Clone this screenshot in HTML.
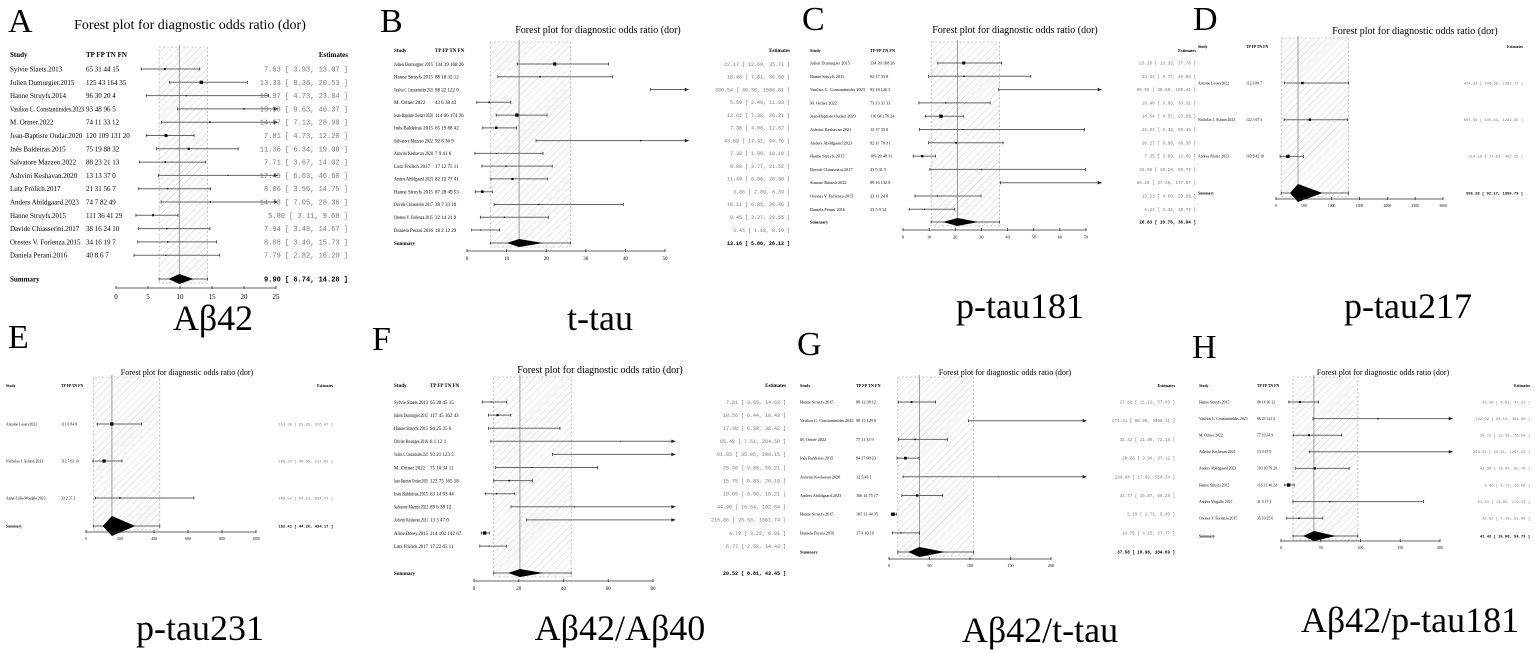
<!DOCTYPE html>
<html><head><meta charset="utf-8"><style>
body{margin:0;background:#fff;}
svg{display:block;}
</style></head><body>
<svg id="fig" width="1535" height="653" viewBox="0 0 1535 653" xmlns="http://www.w3.org/2000/svg">
<defs>
<pattern id="hatch" patternUnits="userSpaceOnUse" width="5" height="5" patternTransform="rotate(45)">
<rect width="5" height="5" fill="#fff"/><line x1="0" y1="0" x2="0" y2="5" stroke="#bbb" stroke-width="0.7"/>
</pattern>
</defs>
</svg>
<script>
// ---------- data ----------
const studiesA=["Sylvie Slaets.2013","Julien Dumurgier.2015"," Hanne Struyfs.2014","Vasilios C. Constantinides.2023","M. Ortner.2022","Jean-Baptiste Oudar.2020","Inês Baldeiras.2015","Salvatore Mazzeo.2022","Ashvini Keshavan.2020","Lutz Frölich.2017","Anders Abildgaard.2023","Hanne Struyfs.2015","Davide Chiasserini.2017","Orestes V. Forlenza.2015","Daniela Perani.2016"];
const countsA=["65 31 44 15","125 43 164 35","96 30 20 4","93 48 96 5","74 11 33 12","120 109 131 20","75 19 88 32","88 23 21 13","13 13 37 0","21 31 56 7","74 7 82 49","111 36 41 29","38 16 24 10","34 16 19 7","40 8 6 7"];
const estA=[7.63,13.33,10.97,19.98,14.67,7.81,11.36,7.71,17.49,8.06,14.73,5.80,7.94,8.08,7.79];
const loA=[3.93,8.36,4.73,9.63,7.13,4.73,6.34,3.67,6.63,3.56,7.05,3.11,3.48,3.40,2.82];
const hiA=[13.07,20.53,23.84,40.37,28.90,12.20,19.08,14.02,46.60,14.75,28.36,9.68,14.67,15.73,16.20];
const sumA=[9.90,6.74,14.28,8.2,12.1];

const studiesB=["Julien Dumurgier 2015","Hanne Struyfs 2015","Vasilios C. Constantinides 2023","M. Ortner 2022","Jean-Baptiste Oudart 2020","Inês Baldeiras 2015","Salvatore Mazzeo 2022","Ashvini Keshavan 2020","Lutz Frölich 2017","Anders Abildgaard 2023","Hanne Struyfs 2015","Davide Chiasserini 2017","Orestes V. Forlenza 2015","Daniela Perani 2016"];
const countsB=["134 39 168 26","88 18 32 12","98 22 122 0","43 6 38 43","114 66 174 26","65 19 88 42","92 8 36 9","7 9 41 6","17 12 75 11","82 12 77 41","87 28 49 53","38 7 33 10","32 14 21 9","18 2 12 29"];
const estB=[22.17,18.46,380.54,5.59,12.61,7.38,43.89,7.38,9.89,11.49,3.86,18.11,9.45,3.45];
const loB=[12.69,7.81,46.36,2.49,7.38,4.00,17.42,1.99,3.77,6.06,2.09,6.85,3.37,1.18];
const hiB=[35.71,36.80,1506.81,11.03,20.21,12.52,94.76,19.19,21.52,20.30,6.39,39.46,20.55,8.19];
const sumB=[13.16,5.86,26.12,10.1,19.2];

const studiesC=["Julien Dumurgier 2015","Hanne Struyfs 2015","Vasilios C. Constantinides 2023","M. Ortner 2022","Jean-Baptiste Oudart 2020","Ashvini Keshavan 2021","Anders Abildgaard 2023","Hanne Struyfs 2015","Davide Chiasserini 2017","Simone Baiardi 2022","Orestes V. Forlenza 2015","Daniela Perani 2016"];
const countsC=["134 39 168 26","92 17 33 8","93 18 126 5","73 13 31 13","116 64 176 24","13 17 33 0","92 11 78 31","109 29 48 31","43 9 31 5","89 16 132 8","33 11 24 8","33 5 9 14"];
const estC=[23.26,23.34,89.55,16.40,14.54,22.93,20.27,7.35,29.96,86.28,13.23,8.23];
const loC=[13.32,9.77,36.59,6.08,8.57,6.32,9.80,3.89,10.29,37.26,4.60,2.38];
const hiC=[37.70,48.86,199.41,33.31,23.08,69.45,38.30,12.48,69.77,177.87,29.88,19.77];
const sumC=[20.83,10.76,36.94,15.3,28.7];

const studiesD=["Antoine Lesary2022","Nicholas J. Ashton 2023","Andrea Pilotto 2023"];
const countsD=["112 3 89 7","122 3 67 3","103 8 42 10"];
const estD=[474.32,607.59,214.59];
const loD=[146.68,145.63,73.83];
const hiD=[1302.17,1282.35,492.29];
const sumD=[395.28,92.17,1305.79,252,834];

const studiesE=["Antoine Lesary2022","Nicholas J. Ashton 2023","Anna-Lidia Wojdała 2023"];
const countsE=["111 6 84 8","112 7 63 13","33 2 37 2"];
const estE=[151.30,106.24,199.54];
const loE=[65.25,40.95,54.13];
const hiE=[326.47,211.61,634.47];
const sumE=[152.41,44.26,434.17,98,289];

const studiesF=["Sylvie Slaets.2013","Julien Dumurgier.2015","Hanne Struyfs.2015","Olivier Bousiges.2016","Vasilios C. Constantinides.2023","M. Ortner 2022","Jean-Baptiste Oudart.2020","Inês Baldeiras.2015","Salvatore Mazzeo.2022","Ashvini Keshavan.2021","Aline Dorey.2015","Lutz Frölich.2017"];
const countsF=["65 30 45 15","117 45 162 43","94 25 25 6","8 1 12 1","93 21 123 5","75 10 34 11","122 75 165 18","63 14 93 44","89 6 38 12","13 3 47 0","214 102 142 67","17 22 65 11"];
const estF=[7.81,10.56,17.38,65.48,91.85,25.90,15.75,10.05,44.90,215.86,4.79,6.77];
const loF=[3.65,6.44,6.50,7.51,35.05,9.68,8.83,5.00,16.54,23.53,3.22,2.58];
const hiF=[14.63,16.43,38.42,284.50,209.15,55.21,26.10,18.21,102.04,1061.74,6.81,14.43];
const sumF=[20.52,8.81,43.45,15.2,31];

const studiesG=["Hanne Struyfs.2015","Vasilios C. Constantinides.2023","M. Ortner 2022","Inês Baldeiras.2015","Ashvini Keshavan.2020","Anders Abildgaard.2023","Hanne Struyfs.2015","Daniela Perani.2016"];
const countsG=["88 12 38 12","98 15 129 0","77 11 33 9","84 17 90 23","12 5 45 1","106 14 75 17","105 33 44 35","37 4 10 10"];
const estG=[27.82,671.31,32.42,20.28,134.94,34.77,5.19,14.75];
const loG=[11.22,98.05,11.89,9.94,17.42,15.87,2.71,4.15];
const hiG=[57.45,3098.31,72.18,37.12,554.34,66.25,9.05,37.77];
const sumG=[37.58,10.98,104.69,23.5,69];

const studiesH=["Hanne Struyfs.2015","Vasilios C. Constantinides.2023","M. Ortner 2022","Ashvini Keshavan.2021","Anders Abildgaard.2023","Hanne Struyfs.2015","Andrea Vergallo 2017","Orestes V. Forlenza.2015"];
const countsH=["88 14 36 12","96 23 121 2","77 10 34 9","13 3 47 0","103 10 79 20","116 31 46 24","41 3 17 4","35 10 25 6"];
const estH=[23.69,122.02,35.12,263.51,42.39,9.66,61.34,22.62];
const loH=[9.82,40.14,15.34,35.61,18.47,4.73,14.95,7.18];
const hiH=[47.21,364.90,76.50,1297.23,85.70,16.69,179.43,52.66];
const sumH=[41.42,15.08,96.73,27.7,69];

const ticksA=[0,5,10,15,20,25], ticksB=[0,10,20,30,40,50], ticksC=[0,10,20,30,40,50,60,70],
ticksD=[0,500,1000,1500,2000,2500,3000], ticksE=[0,200,400,600,800,1000], ticksF=[0,20,40,60,80],
ticksG=[0,50,100,150,200], ticksH=[0,50,100,150,200];

// ---------- layout ----------
const panels=[
 {id:"a",L:"A",lx:8,ly:32,ls:34,tx:190,ty:29,ts:14,hy:57,sx:10,cx:86,y0:69,dy:13.3,sumY:279,axY:288,a0:116,a1:276,xmax:25,clip:25.3,er:348,fs:7,label:"Aβ42",labX:213,labY:330,S:studiesA,C:countsA,E:estA,Lo:loA,Hi:hiA,Sm:sumA,T:ticksA,dh:5},
 {id:"b",L:"B",lx:380,ly:32,ls:34,tx:598,ty:33,ts:10,hy:52,sx:394,cx:435,y0:64,dy:12.77,sumY:243,axY:251,a0:467,a1:665,xmax:50,clip:56,er:790,fs:5,label:"t-tau",labX:600,labY:330,S:studiesB,C:countsB,E:estB,Lo:loB,Hi:hiB,Sm:sumB,T:ticksB,dh:4},
 {id:"c",L:"C",lx:802,ly:30,ls:34,tx:1015,ty:33,ts:10,hy:52,sx:810,cx:870,y0:63,dy:13.3,sumY:222,axY:230,a0:903,a1:1086,xmax:70,clip:76,er:1196,fs:4.3,label:"p-tau181",labX:1020,labY:318,S:studiesC,C:countsC,E:estC,Lo:loC,Hi:hiC,Sm:sumC,T:ticksC,dh:4},
 {id:"d",L:"D",lx:1193,ly:30,ls:34,tx:1415,ty:34,ts:10,hy:48,sx:1198,cx:1246,y0:83,dy:36.7,sumY:193,axY:199,a0:1276,a1:1443,xmax:3000,clip:3000,er:1523,fs:3.8,label:"p-tau217",labX:1408,labY:318,S:studiesD,C:countsD,E:estD,Lo:loD,Hi:hiD,Sm:sumD,T:ticksD,dh:9},
 {id:"e",L:"E",lx:8,ly:348,ls:34,tx:187,ty:375,ts:8,hy:387,sx:6,cx:61,y0:424,dy:37,sumY:526,axY:532,a0:86,a1:256,xmax:1000,clip:1000,er:333,fs:3.8,label:"p-tau231",labX:200,labY:640,S:studiesE,C:countsE,E:estE,Lo:loE,Hi:hiE,Sm:sumE,T:ticksE,dh:10},
 {id:"f",L:"F",lx:372,ly:350,ls:34,tx:600,ty:373,ts:10,hy:387,sx:394,cx:430,y0:402,dy:13.1,sumY:573,axY:581,a0:474,a1:653,xmax:80,clip:90,er:786,fs:5,label:"Aβ42/Aβ40",labX:620,labY:640,S:studiesF,C:countsF,E:estF,Lo:loF,Hi:hiF,Sm:sumF,T:ticksF,dh:4},
 {id:"g",L:"G",lx:797,ly:355,ls:34,tx:1005,ty:375,ts:8,hy:387,sx:800,cx:856,y0:402,dy:18.7,sumY:552,axY:559,a0:889,a1:1051,xmax:200,clip:244,er:1175,fs:4.2,label:"Aβ42/t-tau",labX:1040,labY:642,S:studiesG,C:countsG,E:estG,Lo:loG,Hi:hiG,Sm:sumG,T:ticksG,dh:5},
 {id:"h",L:"H",lx:1192,ly:358,ls:34,tx:1383,ty:375,ts:8,hy:387,sx:1199,cx:1257,y0:402,dy:16.6,sumY:536,axY:541,a0:1281,a1:1440,xmax:200,clip:216,er:1530,fs:3.8,label:"Aβ42/p-tau181",labX:1410,labY:632,S:studiesH,C:countsH,E:estH,Lo:loH,Hi:hiH,Sm:sumH,T:ticksH,dh:5}
];

const NS="http://www.w3.org/2000/svg";
const svg=document.getElementById("fig");
function mk(tag,attrs,parent,txt){const e=document.createElementNS(NS,tag);for(const k in attrs)e.setAttribute(k,attrs[k]);if(txt!==undefined)e.textContent=txt;parent.appendChild(e);return e;}
const serif='"Liberation Serif", serif', mono='"Liberation Mono", monospace';
function f2(v){return v.toFixed(2);}

panels.forEach(p=>{
 const g=mk("g",{},svg);
 
 
 const X=v=>p.a0+(Math.min(Math.max(v,0),p.clip))/p.xmax*(p.a1-p.a0);
 let t=mk("text",{x:p.lx,y:p.ly,"font-family":serif,"font-size":p.ls},g,p.L);
 
 
 t=mk("text",{x:p.tx,y:p.ty,"font-family":serif,"font-size":p.ts,"text-anchor":"middle"},g,"Forest plot for diagnostic odds ratio (dor)");
 
 
 const r=mk("rect",{x:X(p.Sm[1]),y:p.hy-10,width:X(p.Sm[2])-X(p.Sm[1]),height:p.sumY-p.hy+14,fill:"url(#hatch)",stroke:"#999","stroke-width":0.6,"stroke-dasharray":"2,2"},g);
 
 
 const vl=mk("line",{x1:X(p.Sm[0]),x2:X(p.Sm[0]),y1:p.hy-12,y2:p.sumY+4,stroke:"#999","stroke-width":1},g);
 
 
 const hf=p.fs;
 t=mk("text",{x:p.sx,y:p.hy,"font-family":serif,"font-size":hf,"font-weight":"bold"},g,"Study");
 
 
 t=mk("text",{x:p.cx,y:p.hy,"font-family":serif,"font-size":hf,"font-weight":"bold"},g,"TP FP TN FN");
 
 
 t=mk("text",{x:p.er,y:p.hy,"font-family":serif,"font-size":hf,"font-weight":"bold","text-anchor":"end"},g,"Estimates");
 
 
 const widths=p.Lo.map((l,i)=>Math.log(p.Hi[i])-Math.log(l));
 const minW=Math.min(...widths);
 const avail=p.cx-p.sx-2;
 p.S.forEach((s,i)=>{
  const y=p.y0+i*p.dy;
  let e=mk("text",{x:p.sx,y:y+hf*0.35,"font-family":serif,"font-size":hf},g,s);
  
  
  try{ if(e.getComputedTextLength()>avail){e.setAttribute("textLength",avail);e.setAttribute("lengthAdjust","spacingAndGlyphs");} }catch(err){}
  e=mk("text",{x:p.cx,y:y+hf*0.35,"font-family":serif,"font-size":hf,"xml:space":"preserve"},g,p.C[i]);
  
  
  const x1=X(p.Lo[i]),x2=X(p.Hi[i]);
  e=mk("line",{x1:x1,x2:x2,y1:y,y2:y,stroke:"#666","stroke-width":1},g);
  
  
  mk("line",{x1:x1,x2:x1,y1:y-1.5,y2:y+1.5,stroke:"#333","stroke-width":0.8},g);
  if(p.Hi[i]>p.clip){
   const a=mk("polygon",{points:`${x2},${y} ${x2-4},${y-1.8} ${x2-4},${y+1.8}`,fill:"#222"},g);
   
   
  } else mk("line",{x1:x2,x2:x2,y1:y-1.5,y2:y+1.5,stroke:"#333","stroke-width":0.8},g);
  if(p.E[i]<=p.clip){
   const sz=0.8+2.5*Math.pow(minW/widths[i],3);
   e=mk("rect",{x:X(p.E[i])-sz/2,y:y-sz/2,width:sz,height:sz,fill:"#000"},g);
   
   
  }
  e=mk("text",{x:p.er,y:y+hf*0.35,"font-family":mono,"font-size":hf,"text-anchor":"end",fill:"#777","xml:space":"preserve"},g,`${f2(p.E[i])} [ ${f2(p.Lo[i]).padStart(5)}, ${f2(p.Hi[i]).padStart(6)} ]`);
  
  
 });
 const sy=p.sumY;
 t=mk("text",{x:p.sx,y:sy+hf*0.35,"font-family":serif,"font-size":hf,"font-weight":"bold"},g,"Summary");
 
 
 mk("line",{x1:X(p.Sm[1]),x2:X(p.Sm[2]),y1:sy,y2:sy,stroke:"#666","stroke-width":1},g);
 mk("line",{x1:X(p.Sm[1]),x2:X(p.Sm[1]),y1:sy-1.5,y2:sy+1.5,stroke:"#333","stroke-width":0.8},g);
 mk("line",{x1:X(p.Sm[2]),x2:X(p.Sm[2]),y1:sy-1.5,y2:sy+1.5,stroke:"#333","stroke-width":0.8},g);
 const d=mk("polygon",{points:`${X(p.Sm[3])},${sy} ${X(p.Sm[0])},${sy-p.dh} ${X(p.Sm[4])},${sy} ${X(p.Sm[0])},${sy+p.dh}`,fill:"#000"},g);
 
 
 t=mk("text",{x:p.er,y:sy+hf*0.35,"font-family":mono,"font-size":hf,"font-weight":"bold","text-anchor":"end","xml:space":"preserve"},g,`${f2(p.Sm[0])} [ ${f2(p.Sm[1]).padStart(5)}, ${f2(p.Sm[2]).padStart(6)} ]`);
 
 
 const ax=mk("line",{x1:p.a0,x2:p.a1,y1:p.axY,y2:p.axY,stroke:"#333","stroke-width":0.8},g);
 
 
 p.T.forEach(v=>{
  const x=X(v);
  mk("line",{x1:x,x2:x,y1:p.axY-2,y2:p.axY+1,stroke:"#333","stroke-width":0.8},g);
  const tl=mk("text",{x:x,y:p.axY+hf+4,"font-family":serif,"font-size":hf,"text-anchor":"middle"},g,String(v));
  
  
 });
 t=mk("text",{x:p.labX,y:p.labY,"font-family":serif,"font-size":36,"text-anchor":"middle"},g,p.label);
 
 
});
</script>
</body></html>
